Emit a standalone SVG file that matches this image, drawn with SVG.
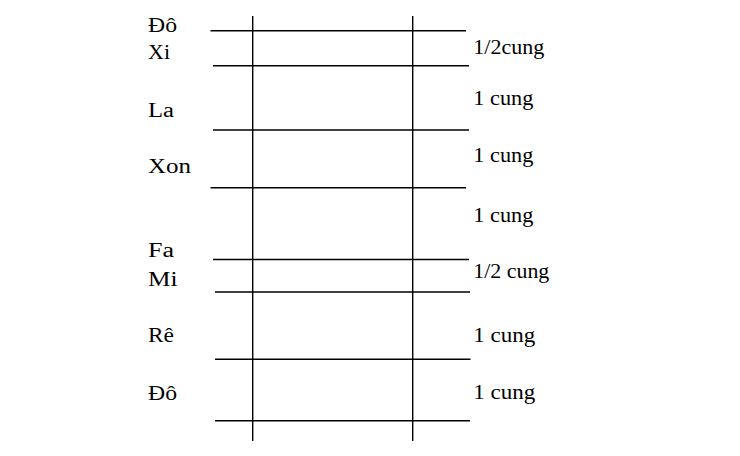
<svg xmlns="http://www.w3.org/2000/svg" width="740" height="456" viewBox="0 0 740 456">
<style>
.ln{stroke:#000;stroke-width:1.4;fill:none}
text{font-family:'Liberation Serif','DejaVu Serif',serif;font-size:20px;fill:#000}
</style>
<rect width="740" height="456" fill="#fff"/>
<g id="connectors">
<line class="ln" x1="252.7" y1="16" x2="252.7" y2="441"/>
<line class="ln" x1="412.7" y1="16" x2="412.7" y2="441"/>
<line class="ln" x1="210.5" y1="30.7" x2="466" y2="30.7"/>
<line class="ln" x1="213" y1="65.7" x2="469" y2="65.7"/>
<line class="ln" x1="213" y1="130" x2="469" y2="130"/>
<line class="ln" x1="210.5" y1="187.7" x2="466" y2="187.7"/>
<line class="ln" x1="213" y1="259.5" x2="469" y2="259.5"/>
<line class="ln" x1="215" y1="292" x2="470" y2="292"/>
<line class="ln" x1="215" y1="359.3" x2="470.5" y2="359.3"/>
<line class="ln" x1="215" y1="420.7" x2="470" y2="420.7"/>
</g>
<g id="notes" font-family="'Liberation Serif', serif">
<text x="148" y="31.5" textLength="29" lengthAdjust="spacingAndGlyphs">Đô</text>
<text x="148" y="59.3" textLength="22" lengthAdjust="spacingAndGlyphs">Xi</text>
<text x="148" y="116.7" textLength="26" lengthAdjust="spacingAndGlyphs">La</text>
<text x="148" y="173.3" textLength="43" lengthAdjust="spacingAndGlyphs">Xon</text>
<text x="148" y="257.3" textLength="26" lengthAdjust="spacingAndGlyphs">Fa</text>
<text x="148" y="285.7" textLength="29.5" lengthAdjust="spacingAndGlyphs">Mi</text>
<text x="148" y="341.7" textLength="26" lengthAdjust="spacingAndGlyphs">Rê</text>
<text x="148" y="400" textLength="29" lengthAdjust="spacingAndGlyphs">Đô</text>
</g>
<g id="intervals" font-family="'Liberation Serif', serif">
<text x="473.3" y="53.5" textLength="71" lengthAdjust="spacingAndGlyphs">1/2cung</text>
<text x="473.3" y="105" textLength="60" lengthAdjust="spacingAndGlyphs">1 cung</text>
<text x="473.3" y="161.7" textLength="60" lengthAdjust="spacingAndGlyphs">1 cung</text>
<text x="473.3" y="221.7" textLength="60" lengthAdjust="spacingAndGlyphs">1 cung</text>
<text x="473.3" y="278.3" textLength="76" lengthAdjust="spacingAndGlyphs">1/2 cung</text>
<text x="473.3" y="341.7" textLength="62" lengthAdjust="spacingAndGlyphs">1 cung</text>
<text x="473.3" y="399.3" textLength="62" lengthAdjust="spacingAndGlyphs">1 cung</text>
</g>
</svg>
